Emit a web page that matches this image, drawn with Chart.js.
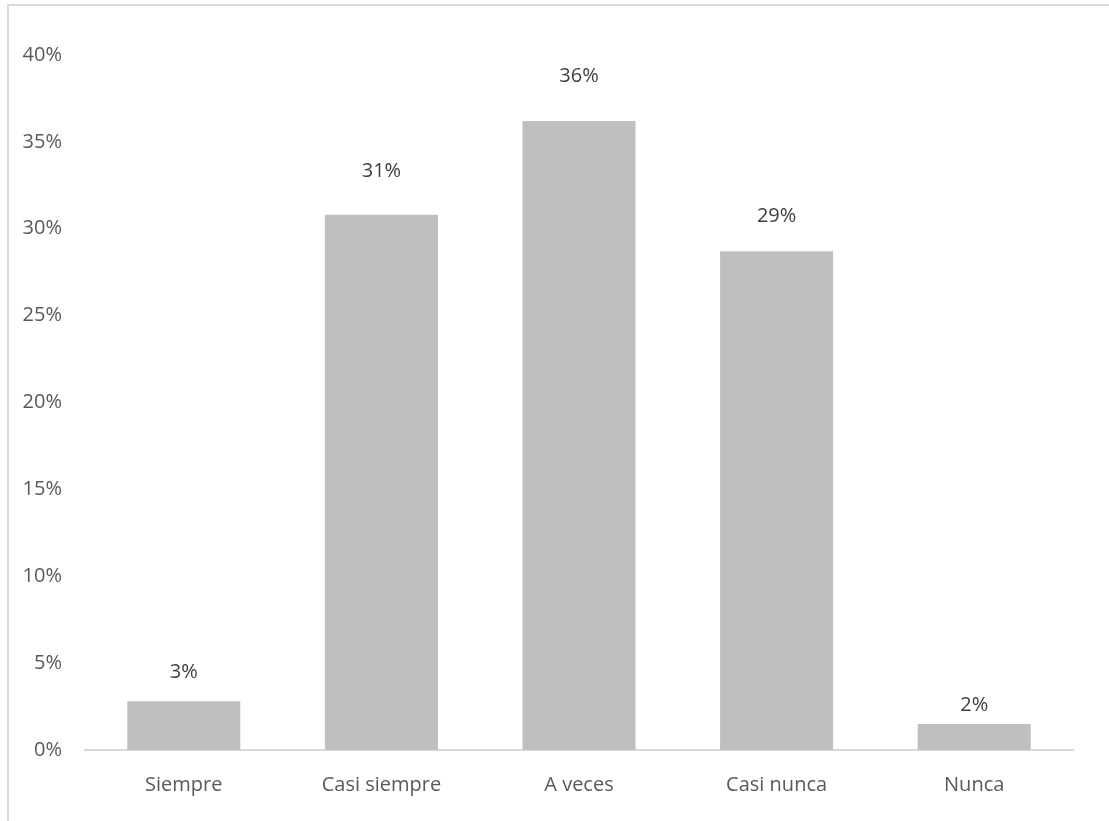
<!DOCTYPE html>
<html>
<head>
<meta charset="utf-8">
<script src="https://cdn.jsdelivr.net/npm/chart.js@4.4.1/dist/chart.umd.min.js"></script>
<style>
  html, body { margin: 0; padding: 0; background: #fff; }
  #wrap { position: relative; width: 1109px; height: 821px; overflow: hidden; }
  #frame { position: absolute; left: 7px; top: 4px; width: 1110px; height: 830px;
           border-top: 2px solid #d9d9d9; border-left: 2px solid #d9d9d9; box-sizing: border-box; pointer-events: none; }
  canvas { position: absolute; left: 0; top: 0; }
</style>
</head>
<body>
<div id="wrap">
  <canvas id="c" width="1109" height="821"></canvas>
  <div id="frame"></div>
</div>
<script>
const categories = ["Siempre", "Casi siempre", "A veces", "Casi nunca", "Nunca"];
const values = [2.8, 30.8, 36.2, 28.7, 1.5];
const valueLabels = ["3%", "31%", "36%", "29%", "2%"];
const yTicks = [0, 5, 10, 15, 20, 25, 30, 35, 40];

const FONT = "'Open Sans', sans-serif";

const labelPlugin = {
  id: 'valueLabels',
  afterDatasetsDraw(chart, args, opts) {
    const ctx = chart.ctx;
    const meta = chart.getDatasetMeta(0);
    ctx.save();
    ctx.font = "20px " + FONT;
    ctx.fillStyle = "#404040";
    ctx.textAlign = "center";
    ctx.textBaseline = "middle";
    meta.data.forEach((bar, i) => {
      const off = opts.offsets[i];
      ctx.fillText(valueLabels[i], bar.x, bar.y - off);
    });
    ctx.restore();
  }
};

new Chart(document.getElementById('c'), {
  type: 'bar',
  data: {
    labels: categories,
    datasets: [{
      data: values,
      backgroundColor: '#bfbfbf',
      borderWidth: 0,
      categoryPercentage: 1.0,
      barPercentage: 0.572
    }]
  },
  options: {
    responsive: false,
    animation: false,
    events: [],
    layout: { padding: { left: 0, top: 55, right: 36, bottom: 0 } },
    plugins: {
      legend: { display: false },
      tooltip: { enabled: false },
      valueLabels: { offsets: [29, 44, 45, 35, 19] }
    },
    scales: {
      x: {
        grid: { display: false },
        border: { display: true, color: '#d9d9d9', width: 2 },
        ticks: { color: '#595959', font: { family: FONT, size: 20 }, padding: 15, maxRotation: 0 },
        afterFit(scale) { scale.height = 71; }
      },
      y: {
        min: 0, max: 40,
        grid: { display: false },
        border: { display: false },
        afterBuildTicks(scale) { scale.ticks = yTicks.map(v => ({ value: v })); },
        ticks: {
          color: '#595959', font: { family: FONT, size: 20 }, padding: 15,
          callback: v => v + '%'
        },
        afterFit(scale) { scale.width = 85; }
      }
    }
  },
  plugins: [labelPlugin]
});
</script>
</body>
</html>
